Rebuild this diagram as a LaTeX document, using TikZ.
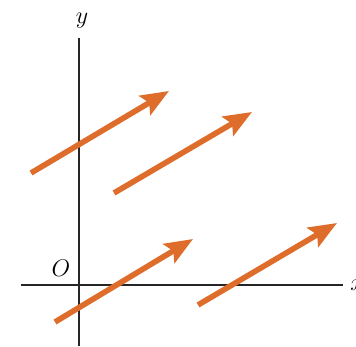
\documentclass[tikz,border=0pt]{standalone}
\usepackage{tikz}
\usetikzlibrary{arrows.meta}

\definecolor{vecorange}{RGB}{222,108,42}

\begin{document}
\begin{tikzpicture}[
    x=0.5pt, y=0.5pt,
    every node/.style={font=\fontsize{13}{15}\selectfont},
    ax/.style={line width=1.1pt, black!85},
    vec/.style={line width=2.8pt, vecorange,
                -{Stealth[length=14pt, width=11pt, inset=2.5pt]}},
    lbl/.style={inner sep=0pt},
  ]
  \useasboundingbox (-79, -61) rectangle (277, 285);
  % axes
  \coordinate (xl) at (-58, 0);
  \coordinate (xr) at (264, 0);
  \coordinate (yb) at (0, -61);
  \coordinate (yt) at (0, 247);
  \draw[ax] (xl) -- (xr);
  \draw[ax] (yb) -- (yt);
  \node[lbl] (ylab) at (3, 264) {$y$};
  \node[lbl] (olab) at (-18, 17) {$O$};
  \node[lbl, anchor=west] (xlab) at (271, 0) {$x$};
  % the four equal vectors
  \coordinate (a1) at (-48, 112);
  \coordinate (b1) at (90, 194);
  \coordinate (a2) at (35, 92);
  \coordinate (b2) at (173, 173);
  \coordinate (a3) at (-24, -37);
  \coordinate (b3) at (114, 46);
  \coordinate (a4) at (119, -20);
  \coordinate (b4) at (258, 62);
  \draw[vec] (a1) -- (b1);
  \draw[vec] (a2) -- (b2);
  \draw[vec] (a3) -- (b3);
  \draw[vec] (a4) -- (b4);
\end{tikzpicture}
\end{document}
